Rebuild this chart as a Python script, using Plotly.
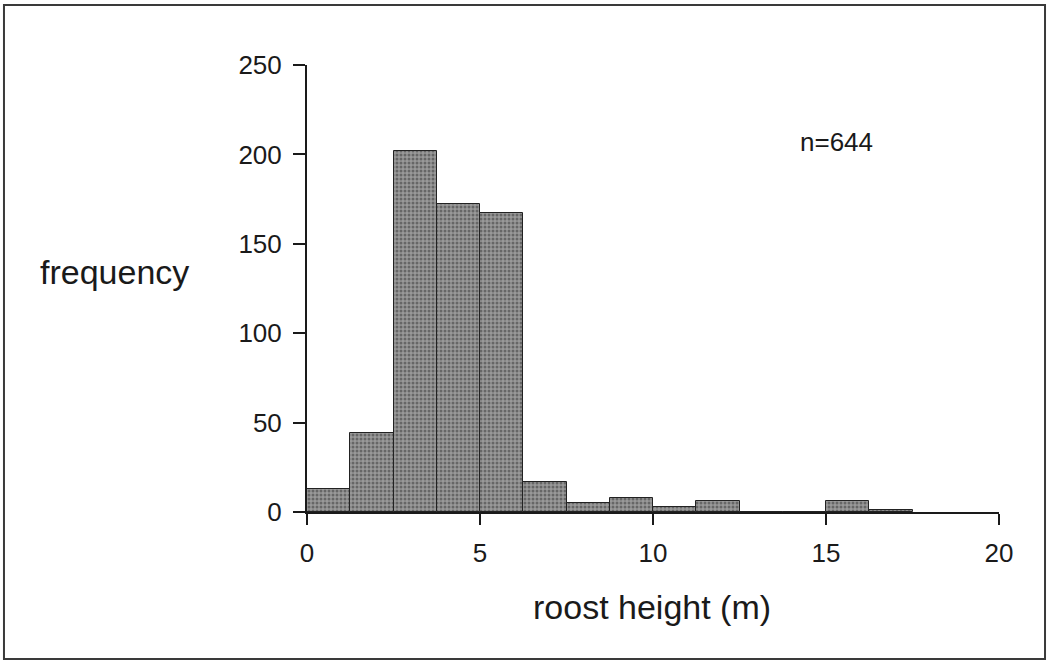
import plotly.graph_objects as go

# Data
bin_start = [0, 1.25, 2.5, 3.75, 5, 6.25, 7.5, 8.75, 10, 11.25, 12.5, 13.75, 15, 16.25]
bin_width = 1.25
counts = [13, 44, 202, 172, 167, 17, 5, 8, 3, 6, 0, 0, 6, 1]
x_ticks = [0, 5, 10, 15, 20]
y_ticks = [0, 50, 100, 150, 200, 250]
n_label = "n=644"

FONT = "Liberation Sans, Arial, Helvetica, sans-serif"

fig = go.Figure()
fig.add_trace(go.Bar(
    x=bin_start, y=counts, width=[bin_width] * len(counts), offset=0,
    marker=dict(
        color="#7a7a7a",
        line=dict(color="#222222", width=1),
        pattern=dict(shape=".", fgcolor="#333333", bgcolor="#999999", size=4, solidity=0.45),
    ),
    showlegend=False,
))

fig.update_layout(
    width=1048, height=665,
    margin=dict(l=307, r=49, t=65, b=153),
    paper_bgcolor="white", plot_bgcolor="white",
    font=dict(family=FONT, color="#1a1a1a"),
    bargap=0,
    xaxis=dict(
        range=[0, 20], tickvals=x_ticks, ticks="outside", ticklen=11, tickwidth=2,
        tickcolor="#1a1a1a", showline=True, linecolor="#1a1a1a", linewidth=2,
        showgrid=False, zeroline=False, tickfont=dict(size=26, family=FONT),
        ticklabelstandoff=6,
    ),
    yaxis=dict(
        range=[0, 250], tickvals=y_ticks, ticks="outside", ticklen=12, tickwidth=2,
        tickcolor="#1a1a1a", showline=True, linecolor="#1a1a1a", linewidth=2,
        showgrid=False, zeroline=False, tickfont=dict(size=26, family=FONT),
        ticklabelstandoff=6,
    ),
    annotations=[
        dict(text="frequency", xref="paper", yref="paper", x=-0.2775, y=0.537,
             xanchor="center", yanchor="middle", showarrow=False,
             font=dict(size=34, family=FONT, color="#1a1a1a")),
        dict(text="roost height (m)", xref="paper", yref="paper", x=0.4986, y=-0.2125,
             xanchor="center", yanchor="middle", showarrow=False,
             font=dict(size=34, family=FONT, color="#1a1a1a")),
        dict(text=n_label, xref="x", yref="y", x=14.2, y=207,
             xanchor="left", yanchor="middle", showarrow=False,
             font=dict(size=26, family=FONT, color="#1a1a1a")),
    ],
    shapes=[
        dict(type="rect", xref="paper", yref="paper",
             x0=-0.4379, x1=1.0665, y0=-0.3289, y1=1.1342,
             line=dict(color="#3a3a3a", width=2), fillcolor="rgba(0,0,0,0)", layer="below"),
    ],
)

fig.write_html("out.html")
